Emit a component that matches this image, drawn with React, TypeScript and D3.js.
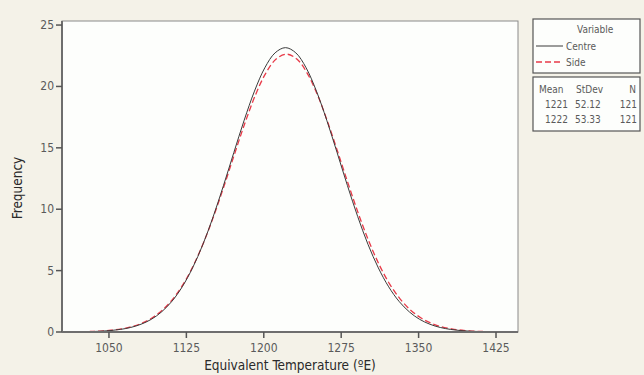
import React from "react";
import * as d3 from "d3";

// Values (fitted frequency curves)
const centreX = [1021, 1031, 1041, 1051, 1061, 1071, 1081, 1091, 1101, 1111, 1121, 1131, 1141, 1151, 1161, 1171, 1181, 1191, 1201, 1211, 1221, 1231, 1241, 1251, 1261, 1271, 1281, 1291, 1301, 1311, 1321, 1331, 1341, 1351, 1361, 1371, 1381, 1391, 1401, 1411, 1421];
const centreY = [0.015, 0.03, 0.06, 0.113, 0.21, 0.368, 0.63, 1.03, 1.64, 2.5, 3.68, 5.22, 7.13, 9.4, 11.94, 14.62, 17.25, 19.62, 21.52, 22.74, 23.16, 22.74, 21.52, 19.62, 17.25, 14.62, 11.94, 9.4, 7.13, 5.22, 3.68, 2.5, 1.64, 1.03, 0.63, 0.368, 0.21, 0.113, 0.06, 0.03, 0.015];
const sideX = [1022, 1032, 1042, 1052, 1062, 1072, 1082, 1092, 1102, 1112, 1122, 1132, 1142, 1152, 1162, 1172, 1182, 1192, 1202, 1212, 1222, 1232, 1242, 1252, 1262, 1272, 1282, 1292, 1302, 1312, 1322, 1332, 1342, 1352, 1362, 1372, 1382, 1392, 1402, 1412, 1422];
const sideY = [0.02, 0.04, 0.076, 0.141, 0.25, 0.433, 0.72, 1.16, 1.8, 2.7, 3.9, 5.45, 7.35, 9.56, 12.02, 14.58, 17.08, 19.32, 21.09, 22.24, 22.63, 22.24, 21.09, 19.32, 17.08, 14.58, 12.02, 9.56, 7.35, 5.45, 3.9, 2.7, 1.8, 1.16, 0.72, 0.433, 0.25, 0.141, 0.076, 0.04, 0.02];

const xTicks = [1050, 1125, 1200, 1275, 1350, 1425];
const yTicks = [0, 5, 10, 15, 20, 25];

const seriesNames = ["Centre", "Side"];
const statHeader = ["Mean", "StDev", "N"];
const statMean = ["1221", "1222"];
const statSd = ["52.12", "53.33"];
const statN = ["121", "121"];

const W = 644, H = 375;
const L = 62, R = 518, T = 21, B = 332;

export default function App() {
  const x = d3.scaleLinear().domain([1004.5, 1446.3]).range([L, R]);
  const y = d3.scaleLinear().domain([0, 25.33]).range([B, T]);
  const line = d3.line<[number, number]>().x(d => x(d[0])).y(d => y(d[1])).curve(d3.curveCatmullRom);
  const cPts = centreX.map((v, i) => [v, centreY[i]] as [number, number]);
  const sPts = sideX.map((v, i) => [v, sideY[i]] as [number, number]);
  const font = "'DejaVu Sans Condensed', Tahoma, 'DejaVu Sans', sans-serif";
  const gray = "#5a5a5a";
  return (
    <svg width={W} height={H} style={{ position: "absolute", left: 0, top: 0 }} fontFamily={font}>
      <rect x={0} y={0} width={W} height={H} fill="#f4f2e8" />
      <rect x={L} y={T} width={R - L} height={B - T} fill="#fdfefc" stroke="#8a8a8a" strokeWidth={1} />
      <path d={line(sPts) || ""} fill="none" stroke="#e83a48" strokeWidth={1.3} strokeDasharray="6,3" />
      <path d={line(cPts) || ""} fill="none" stroke="#3a3a3a" strokeWidth={1} />
      <line x1={L} x2={L} y1={T} y2={B} stroke="#6e6e6e" strokeWidth={2} />
      <line x1={L} x2={R} y1={B} y2={B} stroke="#6e6e6e" strokeWidth={2} />
      {yTicks.map(t => (
        <g key={"y" + t}>
          <line x1={L - 6} x2={L} y1={y(t)} y2={y(t)} stroke="#555" strokeWidth={1.5} />
          <text x={L - 8} y={y(t) + 4} textAnchor="end" fontSize={12} fill={gray}>{t}</text>
        </g>
      ))}
      {xTicks.map(t => (
        <g key={"x" + t}>
          <line x1={x(t)} x2={x(t)} y1={B} y2={B + 6} stroke="#555" strokeWidth={1.5} />
          <text x={x(t)} y={352} textAnchor="middle" fontSize={12} fill={gray}>{t}</text>
        </g>
      ))}
      <text x={(L + R) / 2} y={370} textAnchor="middle" fontSize={13.5} fill="#2a2a2a">Equivalent Temperature (ºE)</text>
      <text transform={`translate(22,${188}) rotate(-90)`} textAnchor="middle" fontSize={13.5} fill="#2a2a2a">Frequency</text>

      <rect x={533} y={19} width={107} height={54} fill="#fdfefc" stroke="#555" strokeWidth={1.2} />
      <text x={577} y={33} fontSize={10} fill={gray}>Variable</text>
      <line x1={536} x2={563} y1={46} y2={46} stroke="#3a3a3a" strokeWidth={1} />
      <text x={566} y={50} fontSize={10} fill={gray}>{seriesNames[0]}</text>
      <line x1={536} x2={563} y1={62} y2={62} stroke="#e83a48" strokeWidth={1.3} strokeDasharray="6,3" />
      <text x={566} y={66} fontSize={10} fill={gray}>{seriesNames[1]}</text>

      <rect x={533} y={77} width={107} height={54} fill="#fdfefc" stroke="#555" strokeWidth={1.2} />
      <text x={539} y={93} fontSize={10} fill={gray}>{statHeader[0]}</text>
      <text x={576} y={93} fontSize={10} fill={gray}>{statHeader[1]}</text>
      <text x={636} y={93} fontSize={10} fill={gray} textAnchor="end">{statHeader[2]}</text>
      {statMean.map((m, i) => (
        <g key={m + i}>
          <text x={545} y={108 + i * 15} fontSize={10} fill={gray}>{m}</text>
          <text x={575} y={108 + i * 15} fontSize={10} fill={gray}>{statSd[i]}</text>
          <text x={637} y={108 + i * 15} fontSize={10} fill={gray} textAnchor="end">{statN[i]}</text>
        </g>
      ))}
    </svg>
  );
}
